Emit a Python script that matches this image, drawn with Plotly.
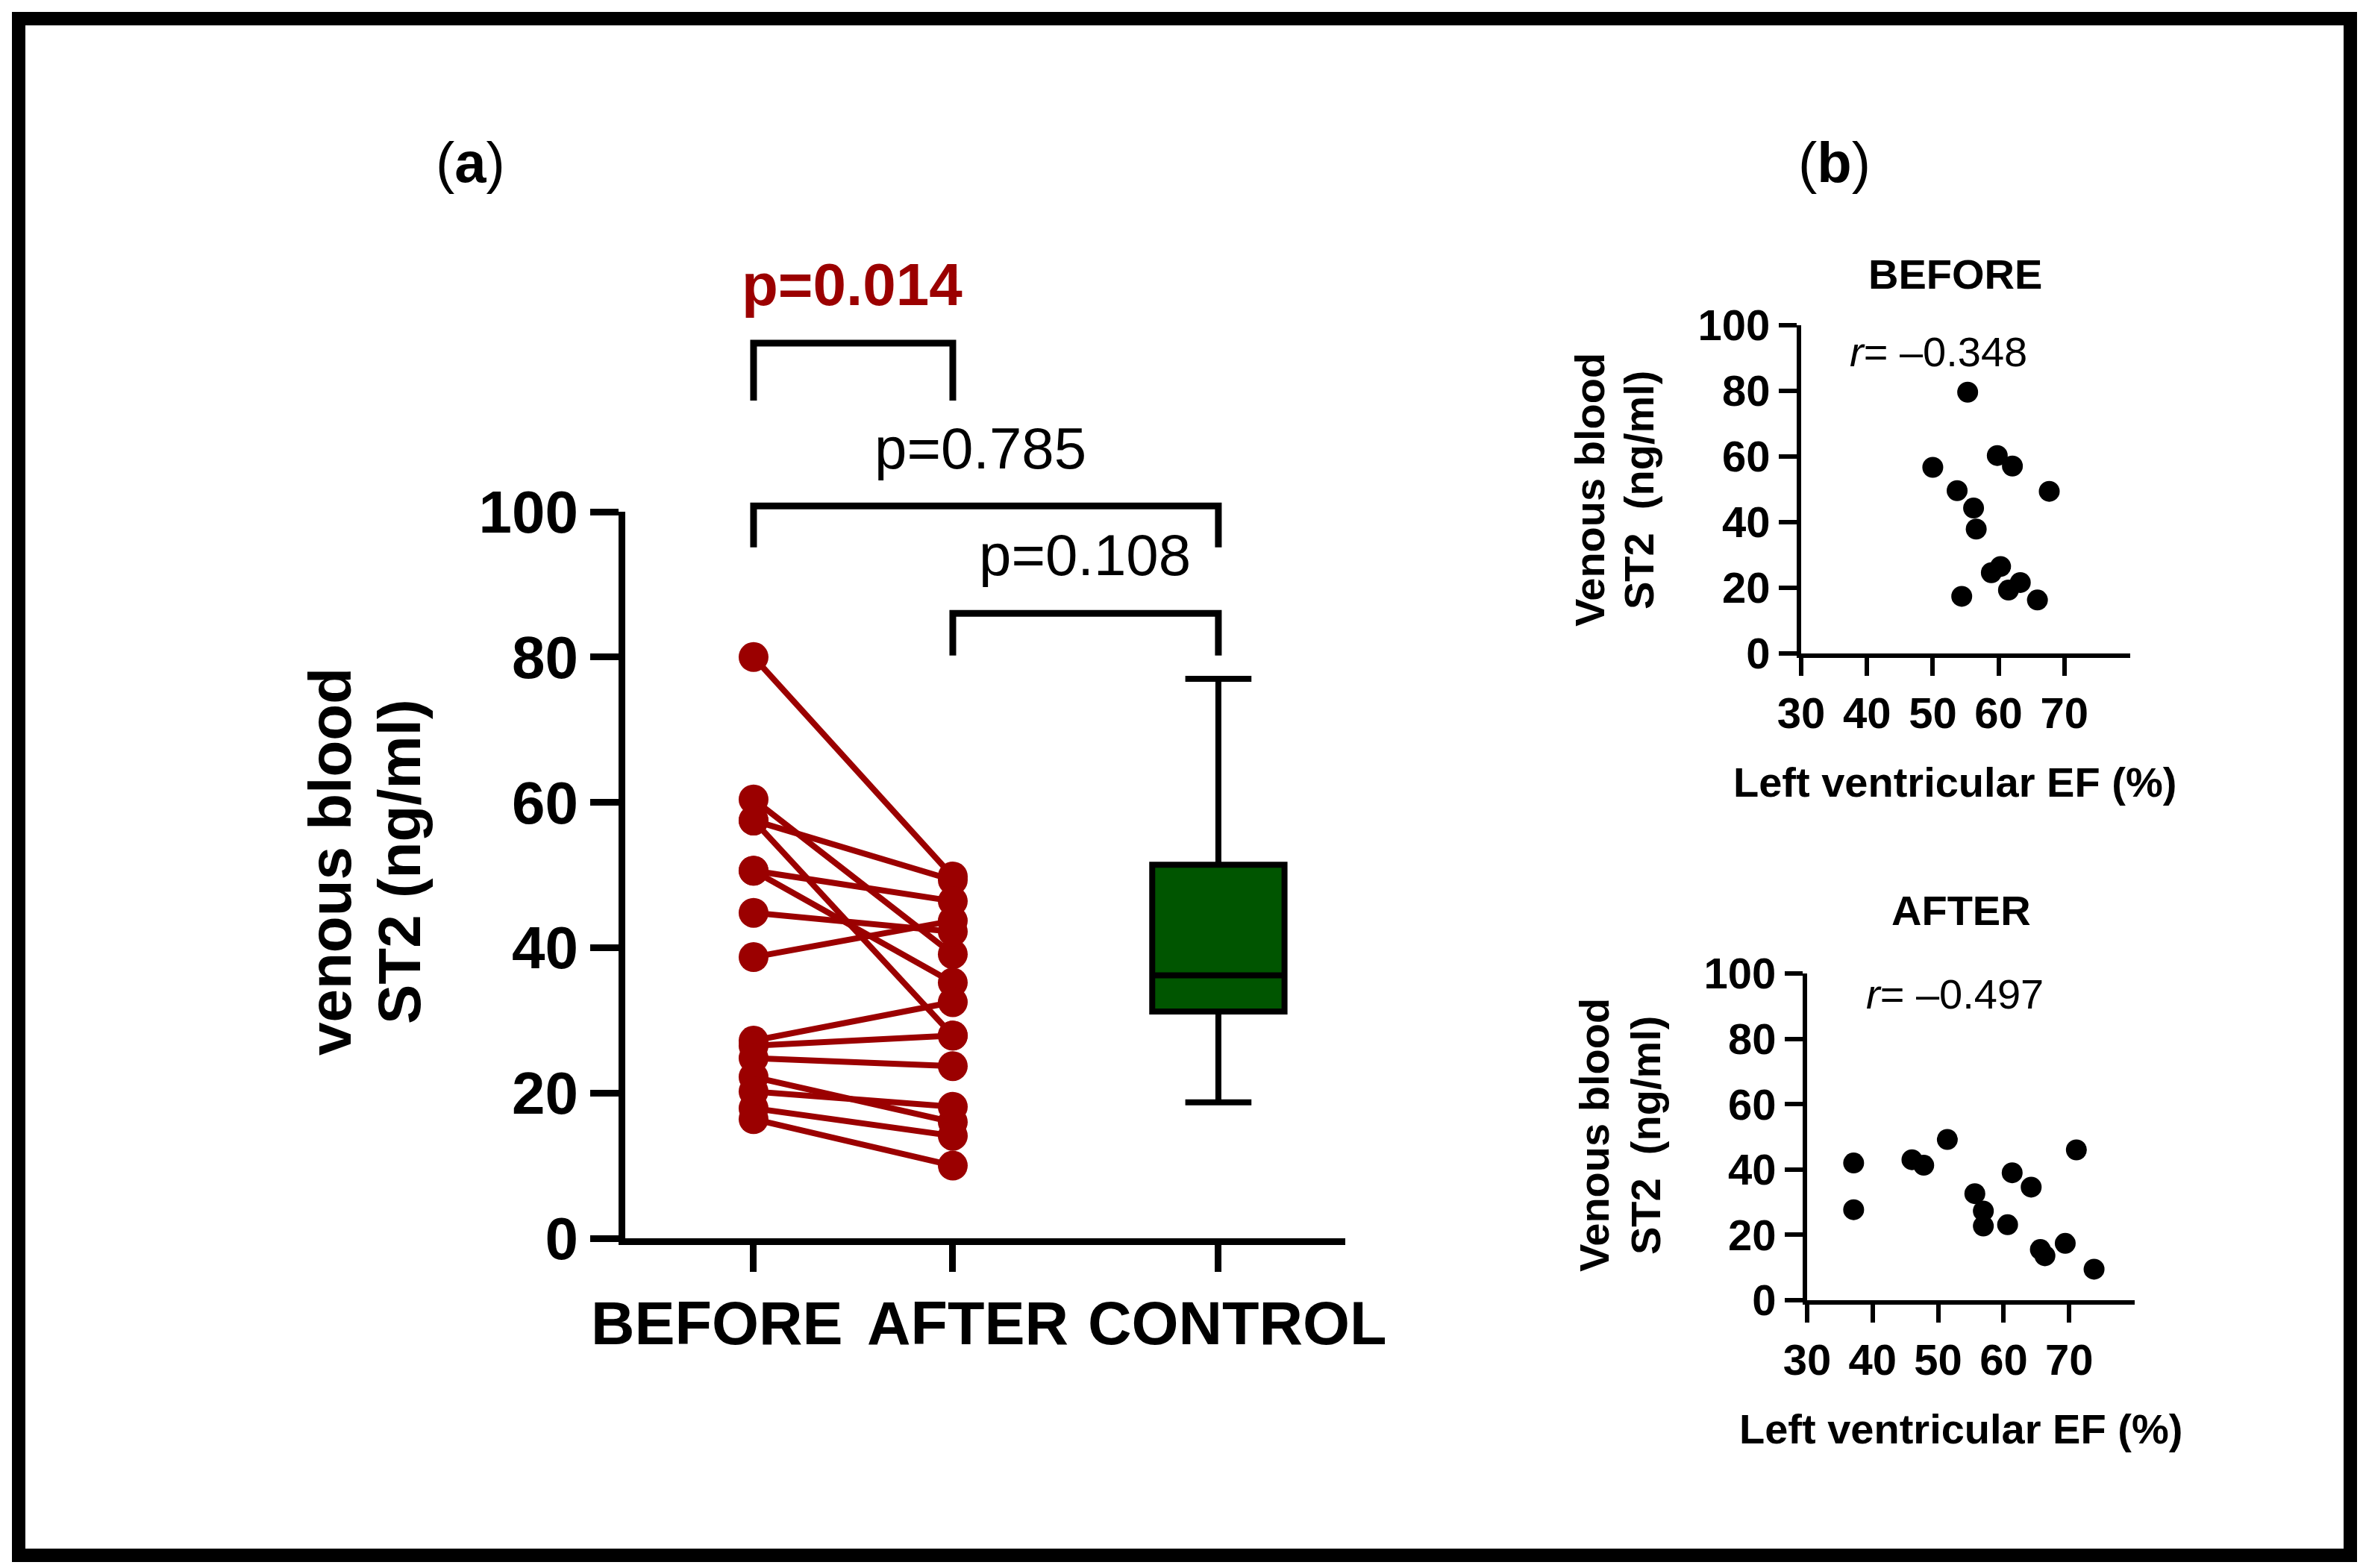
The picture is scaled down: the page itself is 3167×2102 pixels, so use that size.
import plotly.graph_objects as go

W, H = 3167, 2102

# ---- panel (a): venous ST2 (ng/ml), paired before / after, control box ----
st2_before = [80.0, 60.4, 57.5, 57.5, 50.6, 50.6, 44.8, 38.7, 27.2, 26.5, 24.8, 22.2, 20.2, 17.9, 16.4]
st2_after = [49.8, 39.1, 49.3, 27.9, 46.4, 35.2, 42.2, 43.7, 32.5, 27.9, 23.7, 16.0, 18.1, 14.1, 10.0]

control_min = 18.7
control_q1 = 31.2
control_median = 36.2
control_q3 = 51.4
control_max = 77.0

group_labels = ['BEFORE', 'AFTER', 'CONTROL']
group_pos = [0, 1, 2.333]

p_labels = ['p=0.014', 'p=0.785', 'p=0.108']

# ---- panel (b): left ventricular EF (%) vs venous ST2 ----
ef_before = [55.3, 50.0, 53.7, 56.2, 56.6, 59.8, 62.1, 67.7, 58.9, 60.3, 61.5, 63.3, 54.4, 65.9]
st2_before_b = [79.6, 56.7, 49.6, 44.3, 37.9, 60.3, 57.1, 49.4, 24.6, 26.5, 19.3, 21.6, 17.4, 16.3]
ef_after = [37.1, 37.1, 46.0, 47.8, 51.4, 55.6, 56.9, 56.9, 60.6, 61.3, 64.2, 71.1, 65.6, 66.3, 69.4, 73.8]
st2_after_b = [42.0, 27.7, 43.0, 41.3, 49.2, 32.6, 27.3, 22.7, 23.1, 39.0, 34.6, 46.0, 15.5, 13.6, 17.4, 9.5]
r_before = '–0.348'
r_after = '–0.497'

RED = '#9b0000'
GREEN = '#005500'
FONT = 'Liberation Sans'

# axis placement, in page pixels (plot area edges)
A_X = (830, 1795)
A_Y = (1652, 678)
A_XRANGE = (-0.644, 2.970)
B1_X = (2406, 2847)
B1_Y = (868, 428)
B2_X = (2414, 2853)
B2_Y = (1735, 1297)


def px(x):
    return x / W


def py(y):
    return 1 - y / H


def ax_a_x(v):
    # data x of panel (a) -> paper
    f = (v - A_XRANGE[0]) / (A_XRANGE[1] - A_XRANGE[0])
    return px(A_X[0] + f * (A_X[1] - A_X[0]))


def ax_a_y(v):
    return py(A_Y[0] + v / 100 * (A_Y[1] - A_Y[0]))


fig = go.Figure()

# paired lines
xs, ys = [], []
for b, a in zip(st2_before, st2_after):
    xs += [group_pos[0], group_pos[1], None]
    ys += [b, a, None]
fig.add_trace(go.Scatter(x=xs, y=ys, mode='lines+markers',
                         line=dict(color=RED, width=8),
                         marker=dict(color=RED, size=40),
                         cliponaxis=False, showlegend=False,
                         xaxis='x', yaxis='y'))

fig.add_trace(go.Box(x=[group_pos[2]], q1=[control_q1], median=[control_median],
                     q3=[control_q3], lowerfence=[control_min], upperfence=[control_max],
                     orientation='v', width=0.664, whiskerwidth=0.5,
                     fillcolor=GREEN, line=dict(color='black', width=8),
                     boxpoints=False, showlegend=False, xaxis='x', yaxis='y'))

fig.add_trace(go.Scatter(x=ef_before, y=st2_before_b, mode='markers',
                         marker=dict(color='black', size=28),
                         cliponaxis=False, showlegend=False,
                         xaxis='x2', yaxis='y2'))
fig.add_trace(go.Scatter(x=ef_after, y=st2_after_b, mode='markers',
                         marker=dict(color='black', size=28),
                         cliponaxis=False, showlegend=False,
                         xaxis='x3', yaxis='y3'))

common = dict(showline=True, linecolor='black', showgrid=False, zeroline=False,
              ticks='outside', tickcolor='black', automargin=False)
small_font = dict(family=FONT, size=58, color='black', weight='bold')

fig.update_layout(
    template='none',
    width=W, height=H, margin=dict(l=0, r=0, t=0, b=0, pad=0), autosize=False,
    paper_bgcolor='white', plot_bgcolor='white',
    xaxis=dict(domain=[px(A_X[0]), px(A_X[1])], range=list(A_XRANGE), anchor='y',
               tickvals=group_pos, showticklabels=False,
               linewidth=9, ticklen=36, tickwidth=9, **common),
    yaxis=dict(domain=[py(A_Y[0]), py(A_Y[1])], range=[0, 100], anchor='x',
               tickvals=[0, 20, 40, 60, 80, 100],
               tickfont=dict(family=FONT, size=80, color='black', weight='bold'),
               linewidth=9, ticklen=38, tickwidth=9, **common),
    xaxis2=dict(domain=[px(B1_X[0]), px(B1_X[1])], range=[30, 80], anchor='y2',
                tickvals=[30, 40, 50, 60, 70], tickfont=small_font,
                linewidth=6, ticklen=24, tickwidth=6, **common),
    yaxis2=dict(domain=[py(B1_Y[0]), py(B1_Y[1])], range=[0, 100], anchor='x2',
                tickvals=[0, 20, 40, 60, 80, 100], tickfont=small_font,
                linewidth=6, ticklen=24, tickwidth=6, **common),
    xaxis3=dict(domain=[px(B2_X[0]), px(B2_X[1])], range=[30, 80], anchor='y3',
                tickvals=[30, 40, 50, 60, 70], tickfont=small_font,
                linewidth=6, ticklen=24, tickwidth=6, **common),
    yaxis3=dict(domain=[py(B2_Y[0]), py(B2_Y[1])], range=[0, 100], anchor='x3',
                tickvals=[0, 20, 40, 60, 80, 100], tickfont=small_font,
                linewidth=6, ticklen=24, tickwidth=6, **common),
)

shapes = [dict(type='rect', xref='paper', yref='paper',
               x0=px(17), x1=px(3142), y0=py(17), y1=py(2077),
               line=dict(color='black', width=18))]

# significance brackets: (left, right, top, leg bottom)
brackets = [(group_pos[0], group_pos[1], 123.2, 115.3),
            (group_pos[0], group_pos[2], 100.8, 95.1),
            (group_pos[1], group_pos[2], 86.0, 80.2)]
for x0, x1, top, bot in brackets:
    shapes.append(dict(type='path', xref='paper', yref='paper',
                       path='M {a},{b} L {a},{c} L {d},{c} L {d},{b}'.format(
                           a=ax_a_x(x0), b=ax_a_y(bot), c=ax_a_y(top), d=ax_a_x(x1)),
                       line=dict(color='black', width=9)))
fig.update_layout(shapes=shapes)

ann = []


def note(text, x, y, size, color='black', angle=0):
    ann.append(dict(text=text, x=x, y=y, xref='paper', yref='paper',
                    xanchor='center', yanchor='middle', showarrow=False, textangle=angle,
                    font=dict(family=FONT, size=size, color=color)))


# p values
note('<b>' + p_labels[0] + '</b>', ax_a_x(0.496), ax_a_y(131.3), 80, RED)
note(p_labels[1], ax_a_x(1.137), ax_a_y(108.7), 78)
note(p_labels[2], ax_a_x(1.664), ax_a_y(94.0), 78)

# category labels, shifted as in the source figure
label_shift = [-0.183, 0.076, 0.094]
for lab, pos, sh in zip(group_labels, group_pos, label_shift):
    note('<b>' + lab + '</b>', ax_a_x(pos + sh), py(1766), 81)

note('<b>venous blood</b>', px(434), py(1147), 80, angle=-90)
note('<b>ST2 (ng/ml)</b>', px(527), py(1147), 80, angle=-90)
note('(<b>a</b>)', px(622), py(209), 76)
note('(<b>b</b>)', px(2450), py(209), 76)

# panel (b) texts
note('<b>BEFORE</b>', px(2612), py(359), 56)
note('<i>r</i>= ' + r_before, px(2590), py(464), 56)
note('<b>Venous blood</b>', px(2122), py(649), 56, angle=-90)
note('<b>ST2  (ng/ml)</b>', px(2188), py(649), 56, angle=-90)
note('<b>Left ventricular EF (%)</b>', px(2612), py(1040), 56)

note('<b>AFTER</b>', px(2620), py(1212), 56)
note('<i>r</i>= ' + r_after, px(2612), py(1324), 56)
note('<b>Venous blood</b>', px(2128), py(1514), 56, angle=-90)
note('<b>ST2  (ng/ml)</b>', px(2197), py(1514), 56, angle=-90)
note('<b>Left ventricular EF (%)</b>', px(2620), py(1907), 56)

fig.update_layout(annotations=ann)

fig.write_html("out.html")
